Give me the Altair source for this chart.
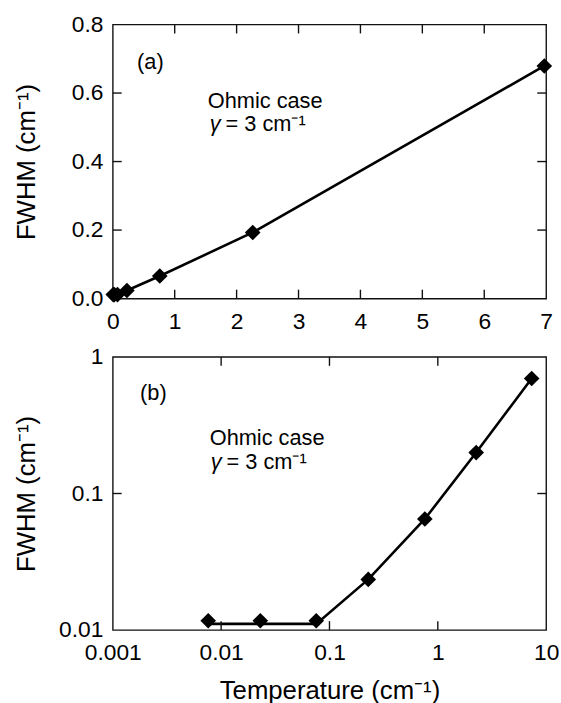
import altair as alt
import pandas as pd

FONT = "Liberation Sans"

# ---- data ----
temp_a = [0.0076, 0.023, 0.0755, 0.228, 0.759, 2.26, 6.97]
fwhm_a = [0.0117, 0.0117, 0.0117, 0.0235, 0.066, 0.193, 0.679]

temp_b = [0.0076, 0.023, 0.0755, 0.228, 0.759, 2.26, 7.35]
fwhm_b = [0.0117, 0.0117, 0.0117, 0.0235, 0.0651, 0.1995, 0.695]
line_b = [0.0111, 0.0111, 0.0111, 0.0235, 0.0651, 0.1995, 0.695]

xticks_a = [0, 1, 2, 3, 4, 5, 6, 7]
yticks_a = [0.0, 0.2, 0.4, 0.6, 0.8]
xticks_b = [0.001, 0.01, 0.1, 1, 10]
yticks_b = [0.01, 0.1, 1]

inner_x_a = [1, 2, 3, 4, 5, 6]
inner_y_a = [0.2, 0.4, 0.6]
inner_x_b = [0.01, 0.1, 1]
inner_y_b = [0.1]

W = 438
HA = 277
HB = 276
TICK = 9
INK = "#111"

df_a = pd.DataFrame({"T": temp_a, "F": fwhm_a, "L": fwhm_a})
df_b = pd.DataFrame({"T": temp_b, "F": fwhm_b, "L": line_b})


def panel(df, xscale, yscale, xvals, yvals, xfmt, yfmt, inx, iny, h, tag, xtitle, ann):
    xaxis_kw = dict(values=xvals, format=xfmt, ticks=False, domain=False, grid=False,
                    labelFont=FONT, labelFontSize=23, labelColor="black",
                    labelPadding=12, labelFlush=False, labelOverlap=False)
    if xtitle:
        xaxis_kw.update(title=xtitle, titleFont=FONT, titleFontSize=26,
                        titleFontWeight="normal", titleColor="black",
                        titleY=61, titleBaseline="middle")
    else:
        xaxis_kw.update(title=None)
    yaxis = alt.Axis(values=yvals, format=yfmt, ticks=False, domain=False, grid=False,
                     labelFont=FONT, labelFontSize=23, labelColor="black",
                     labelPadding=10, labelFlush=False, labelOverlap=False,
                     title="FWHM (cm\u207b\u00b9)", titleFont=FONT, titleFontSize=26,
                     titleFontWeight="normal", titleColor="black",
                     titleX=-87, titleY=h / 2, titleAngle=270,
                     titleAlign="center", titleBaseline="middle")
    X = alt.X("T:Q", scale=xscale, axis=alt.Axis(**xaxis_kw))
    Y = alt.Y("L:Q", scale=yscale, axis=yaxis)

    base = alt.Chart(df)
    line = base.mark_line(color="black", strokeWidth=2.6, interpolate="linear",
                          clip=False).encode(x=X, y=Y)
    pts = base.mark_point(shape="diamond", filled=True, size=250, color="black",
                          opacity=1, clip=False).encode(
        x=alt.X("T:Q", scale=xscale), y=alt.Y("F:Q", scale=yscale))

    txdf = pd.DataFrame({"v": inx})
    tydf = pd.DataFrame({"v": iny})
    tk = dict(color=INK, strokeWidth=1.4)
    xt_bot = alt.Chart(txdf).mark_rule(**tk).encode(
        x=alt.X("v:Q", scale=xscale), y=alt.value(h - TICK), y2=alt.value(h))
    xt_top = alt.Chart(txdf).mark_rule(**tk).encode(
        x=alt.X("v:Q", scale=xscale), y=alt.value(0), y2=alt.value(TICK))
    yt_l = alt.Chart(tydf).mark_rule(**tk).encode(
        y=alt.Y("v:Q", scale=yscale), x=alt.value(0), x2=alt.value(TICK))
    yt_r = alt.Chart(tydf).mark_rule(**tk).encode(
        y=alt.Y("v:Q", scale=yscale), x=alt.value(W - TICK), x2=alt.value(W))

    texts = []
    (tx, ty), (ox, oy), (gx, gy), (ex, ey) = ann
    for label, px, py, style, align in [
        (tag, tx, ty, "normal", "center"),
        ("Ohmic case", ox, oy, "normal", "center"),
        ("\u03b3", gx, gy, "italic", "left"),
        ("= 3 cm\u207b\u00b9", ex, ey, "normal", "left"),
    ]:
        texts.append(
            alt.Chart(pd.DataFrame({"s": [label]})).mark_text(
                font=FONT, fontSize=22, fontStyle=style, color="black",
                align=align, baseline="middle").encode(
                x=alt.value(px), y=alt.value(py), text="s:N"))

    return alt.layer(line, pts, xt_bot, xt_top, yt_l, yt_r, *texts).properties(
        width=W, height=h)


pa = panel(df_a,
           alt.Scale(type="linear", domain=[0, 7], nice=False, zero=False),
           alt.Scale(type="linear", domain=[0, 0.8], nice=False, zero=False),
           xticks_a, yticks_a, "d", ".1f", inner_x_a, inner_y_a, HA, "(a)", None,
           [(38, 38), (154, 77), (98, 101), (114, 101)])

pb = panel(df_b,
           alt.Scale(type="log", domain=[0.001, 10], nice=False),
           alt.Scale(type="log", domain=[0.01, 1], nice=False),
           xticks_b, yticks_b, "~g", "~g", inner_x_b, inner_y_b, HB, "(b)",
           "Temperature (cm\u207b\u00b9)",
           [(41, 36), (156, 82), (99, 106), (115, 106)])

chart = alt.vconcat(pa, pb, spacing=59, bounds="flush").configure_view(
    stroke=INK, strokeWidth=1.4).properties(
    padding={"left": 13, "top": 9, "right": 1, "bottom": 0},
    background="white")

chart.save("out.html", embed_options={"renderer": "svg", "actions": False})
